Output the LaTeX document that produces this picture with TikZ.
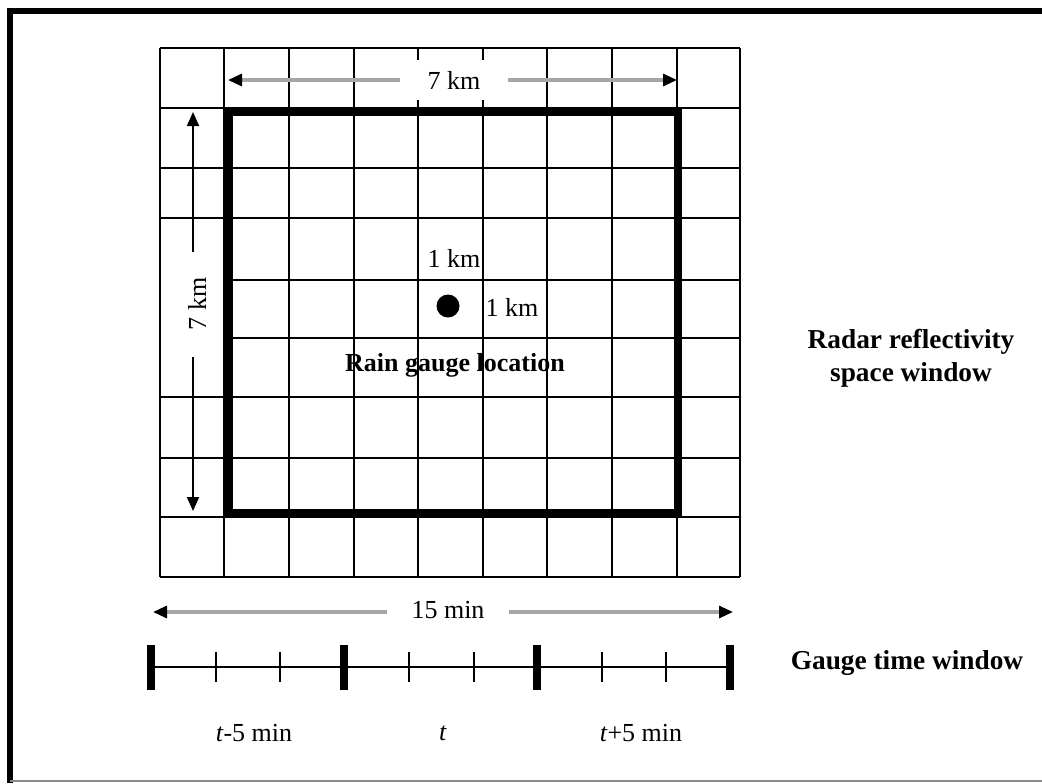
\documentclass[tikz,border=0pt]{standalone}
\usepackage{fontspec}
\setmainfont{Liberation Serif}
\usetikzlibrary{arrows.meta}
\tikzset{
  gridline/.style={line width=1.5pt},
  grayarr/.style={draw=black!35, line width=2.3pt, -{Triangle[length=10.5pt,width=9pt,color=black]}},
  blackarr/.style={draw=black, line width=1.4pt, -{Triangle[length=10.5pt,width=9pt,color=black]}},
  lbl/.style={font=\fontsize{19.5}{23}\selectfont, inner sep=0pt},
  blbl/.style={font=\fontsize{20.5}{25}\selectfont\bfseries, inner sep=0pt, align=center},
  thicktick/.style={line width=5.5pt},
  thintick/.style={line width=1.4pt},
}
\begin{document}
\begin{tikzpicture}[x=0.75pt,y=-0.75pt]
\useasboundingbox (0,0) rectangle (1042,783);
% frame
\draw[line width=4.5pt] (10,783) -- (10,11) -- (1042,11);
\draw[black!45, line width=1.5pt] (10,781) -- (1042,781);
% grid
\foreach \x in {160,224,289,354,418,483,547,612,677,740}
  \draw[gridline] (\x,48) -- (\x,577);
\foreach \y in {48,108,168,218,280,338,397,458,517,577}
  \draw[gridline] (160,\y) -- (740,\y);
% top 7 km arrow
\coordinate (hl) at (228,80);
\coordinate (hr) at (677,80);
\node[lbl, fill=white, minimum width=108*0.75pt, minimum height=40*0.75pt] (h7) at (454,80) {7 km};
\draw[grayarr] (h7.west) -- (hl);
\draw[grayarr] (h7.east) -- (hr);
% left 7 km arrow
\fill[white] (161,251) rectangle (223,358);
\node[lbl, rotate=90] (v7) at (197,304) {7 km};
\coordinate (vt) at (193,112);
\coordinate (vb) at (193,511);
\coordinate (vgt) at (193,252);
\coordinate (vgb) at (193,357);
\draw[blackarr] (vgt) -- (vt);
\draw[blackarr] (vgb) -- (vb);
% thick window
\draw[line width=5.5pt] (229,112) rectangle (678,512.5);
% gauge
\fill (448,306) circle (11.5);
\node[lbl] (k1) at (454,258) {1 km};
\node[lbl] (k2) at (512,307) {1 km};
\node[blbl, font=\fontsize{19.5}{23}\selectfont\bfseries] (rg) at (455,365) {Rain gauge location};
% right labels
\node[blbl] (rr) at (911,358) {Radar reflectivity\\space window};
\node[blbl] (gt) at (907,663) {Gauge time window};
% 15 min arrow
\node[lbl, fill=white, minimum width=121*0.75pt] (m15) at (448,610) {15 min};
\coordinate (ml) at (153,612);
\coordinate (mr) at (733,612);
\draw[grayarr] (m15.west |- ml) -- (ml);
\draw[grayarr] (m15.east |- mr) -- (mr);
% timeline
\coordinate (t0) at (151,667);
\coordinate (t3) at (730,667);
\draw[line width=1.5pt] (t0) -- (t3);
\foreach \x in {151,344,537,730}
  \draw[thicktick] (\x,645) -- (\x,690);
\foreach \x in {216,280,409,474,602,666}
  \draw[thintick] (\x,652) -- (\x,682);
\node[lbl] (l1) at (254,733) {\textit{t}-5 min};
\node[lbl] (l2) at (443,733) {\textit{t}};
\node[lbl] (l3) at (641,733) {\textit{t}+5 min};
\end{tikzpicture}
\end{document}
